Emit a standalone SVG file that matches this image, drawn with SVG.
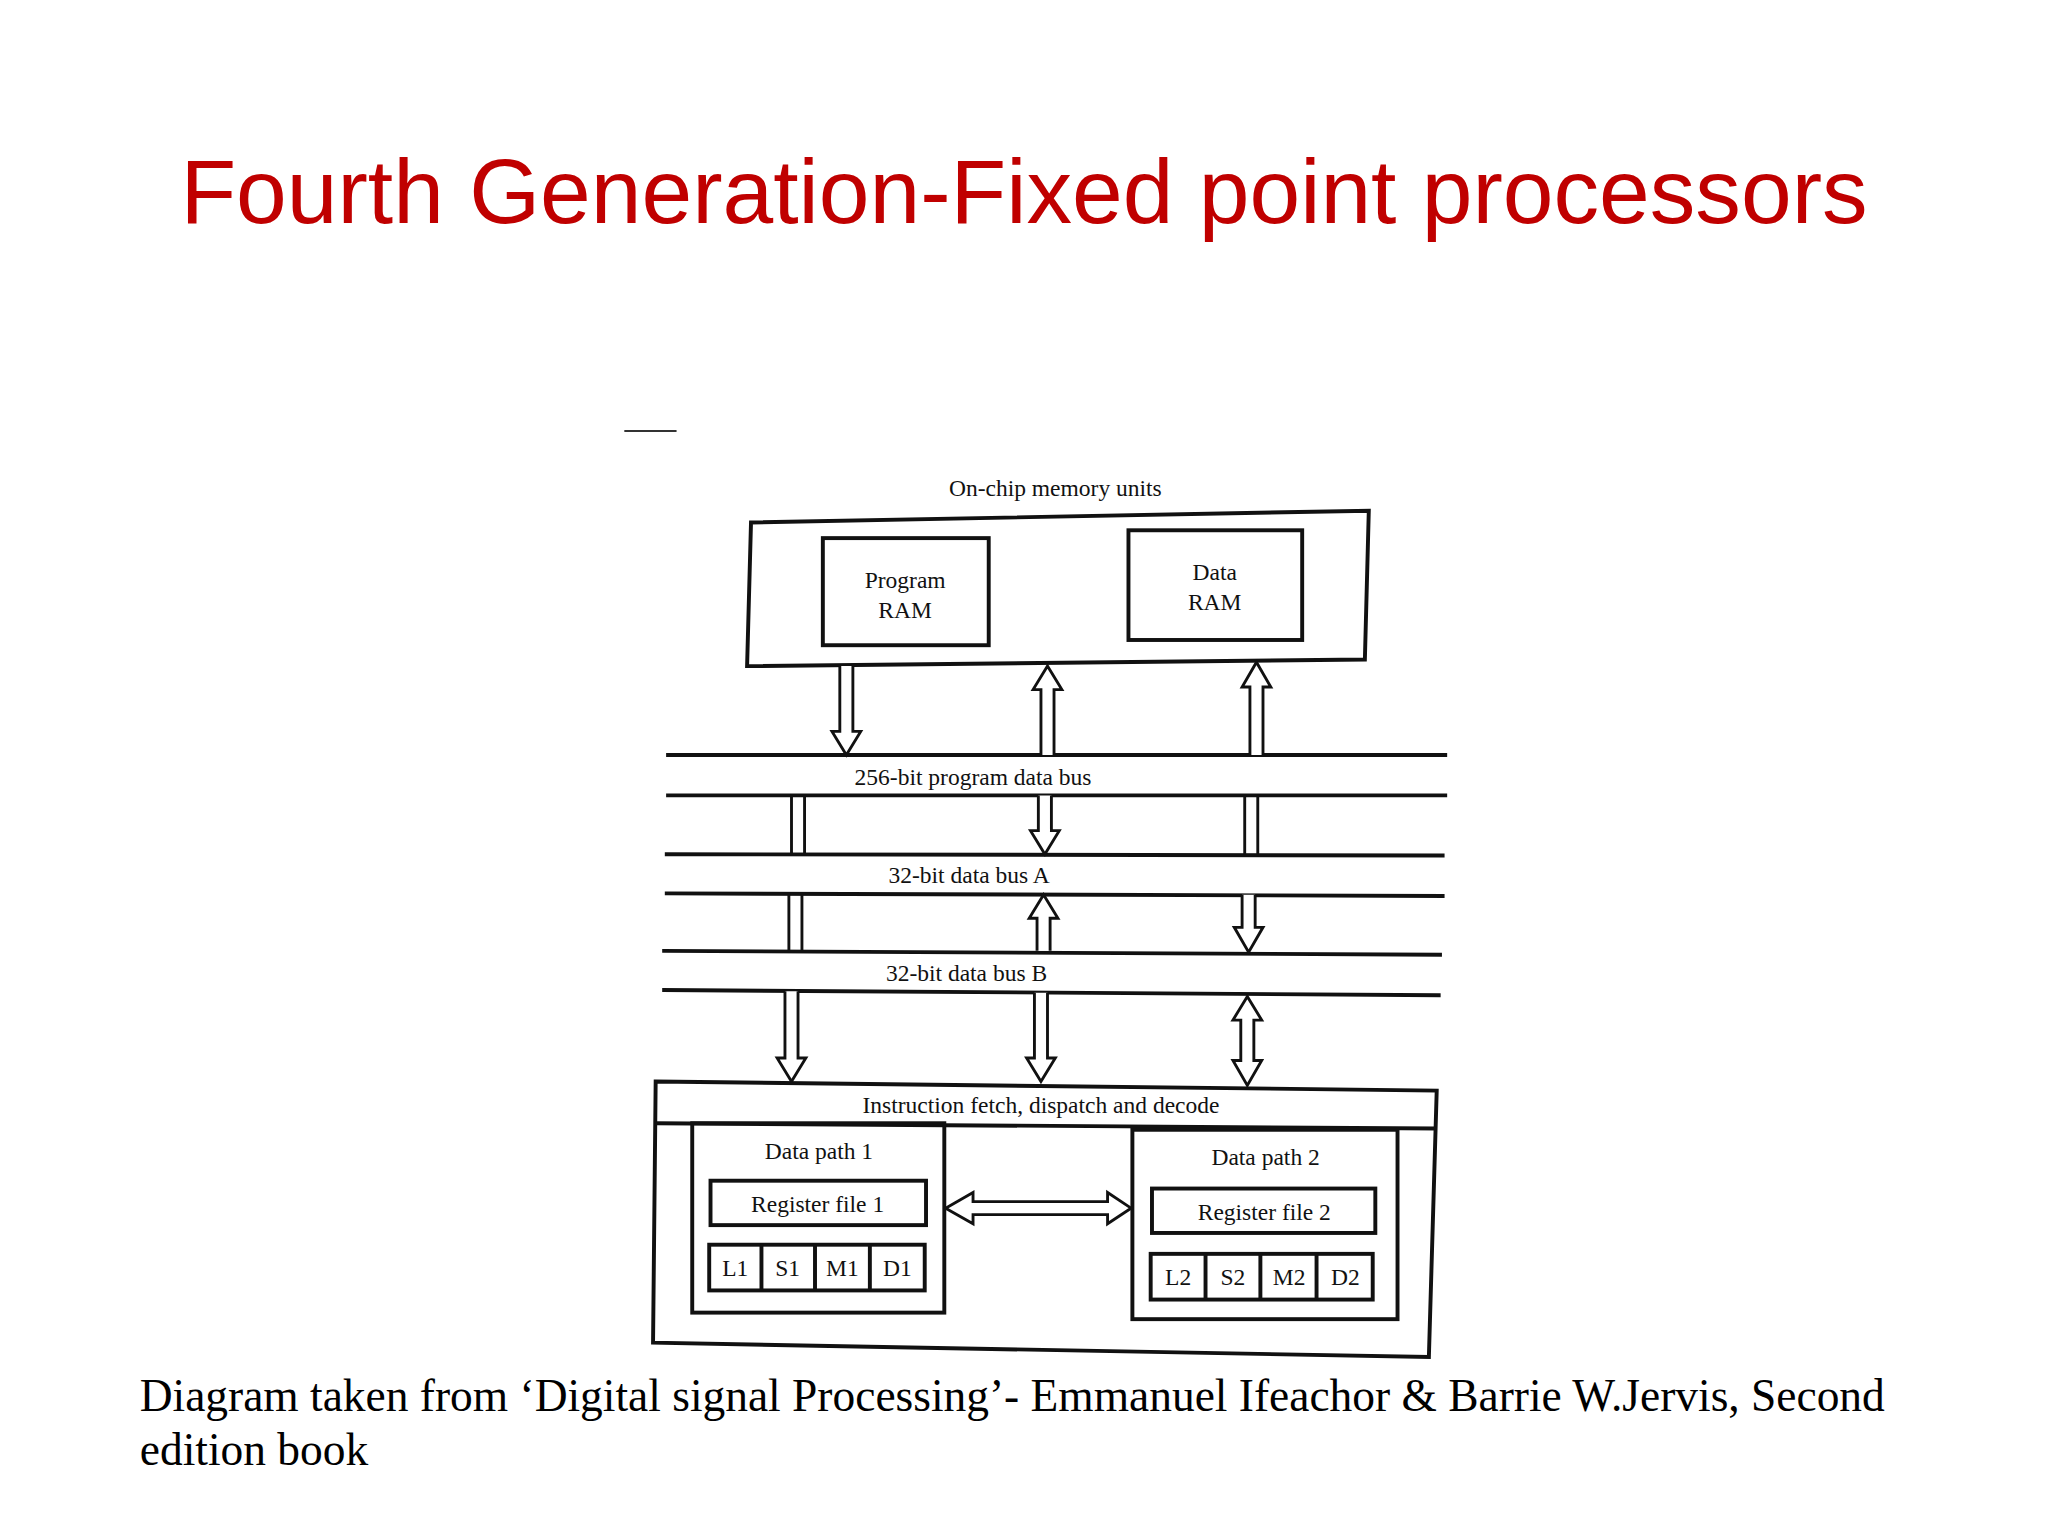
<svg xmlns="http://www.w3.org/2000/svg" width="2048" height="1536" viewBox="0 0 2048 1536">
<style>
.t{font-family:"Liberation Serif",serif;fill:#111;text-anchor:middle}
.b{fill:none;stroke:#111;stroke-width:3}
.a{fill:#fff;stroke:#111;stroke-width:2.2;stroke-linejoin:miter}
.l{stroke:#111;stroke-width:3}
</style>
<rect width="2048" height="1536" fill="#fff"/>
<g transform="scale(1.3061)">
<text x="784" y="171" style="font-family:'Liberation Sans',Arial,sans-serif;font-size:69.8px;fill:#C00000;text-anchor:middle">Fourth Generation-Fixed point processors</text>
<line x1="478" y1="330" x2="518" y2="330" stroke="#333" stroke-width="1.5"/>
<g id="memory">
<text class="t" x="808" y="380" font-size="18">On-chip memory units</text>
<polygon class="b" points="575,400 1048,391 1045,505 572,510"/>
</g>
<g id="program-ram"><rect class="b" x="630" y="412" width="127" height="82"/>
<text class="t" x="693" y="450" font-size="18">Program</text><text class="t" x="693" y="473" font-size="18">RAM</text></g>
<g id="data-ram"><rect class="b" x="864" y="406" width="133" height="84"/>
<text class="t" x="930" y="444" font-size="18">Data</text><text class="t" x="930" y="467" font-size="18">RAM</text></g>
<g id="buses">
<line class="l" x1="510" y1="578" x2="1108" y2="578"/><line class="l" x1="510" y1="609" x2="1108" y2="609"/>
<line class="l" x1="509" y1="654" x2="1106" y2="655"/><line class="l" x1="509" y1="684" x2="1106" y2="686"/>
<line class="l" x1="507" y1="728" x2="1104" y2="731"/><line class="l" x1="507" y1="758" x2="1103" y2="762"/>
<text class="t" x="745" y="601" font-size="18">256-bit program data bus</text>
<text class="t" x="742" y="676" font-size="18">32-bit data bus A</text>
<text class="t" x="740" y="751" font-size="18">32-bit data bus B</text>
</g>
<g id="connectors">
<path class="a" d="M643,510 V560 H637 L648,578 L659,560 H653 V510"/>
<path class="a" d="M797,578 V528 H791 L802,510 L813,528 H807 V578"/>
<path class="a" d="M795,609 V636 H789 L800,654 L811,636 H805 V609"/>
<path class="a" d="M957,578 V526 H951 L962,507 L973,526 H967 V578"/>
<path class="a" d="M953,609 V654 M963,609 V654"/>
<path class="a" d="M951,685 V710 H945 L956,729 L967,710 H961 V685"/>
<path class="a" d="M606,609 V654 M616,609 V654 M604,685 V728 M614,685 V728"/>
<path class="a" d="M601,759 V810 H595 L606,828 L617,810 H611 V759"/>
<path class="a" d="M794,728 V703 H788 L799,685 L810,703 H804 V728"/>
<path class="a" d="M792,760 V810 H786 L797,828 L808,810 H802 V760"/>
<path class="a" d="M950,781 V812 H944 L955,831 L966,812 H960 V781 H966 L955,763 L944,781 Z"/>
<path class="a" d="M745,920 H848 V913 L866,925 L848,937 V930 H745 V937 L724,925 L745,913 Z"/>
</g>
<g id="core">
<polygon class="b" points="502,828 1100,835 1094,1039 500,1028"/>
<line class="l" x1="502" y1="860" x2="1100" y2="864"/>
<text class="t" x="797" y="852" font-size="18">Instruction fetch, dispatch and decode</text>
</g>
<g id="datapath1">
<rect class="b" x="530" y="860" width="193" height="145"/>
<text class="t" x="627" y="887" font-size="18">Data path 1</text>
<rect class="b" x="544" y="904" width="165" height="34"/>
<text class="t" x="626" y="928" font-size="18">Register file 1</text>
<rect class="b" x="543" y="953" width="165" height="35"/>
<path class="l" d="M583,953V988M624,953V988M666,953V988"/>
<text class="t" x="563" y="977" font-size="18">L1</text><text class="t" x="603" y="977" font-size="18">S1</text>
<text class="t" x="645" y="977" font-size="18">M1</text><text class="t" x="687" y="977" font-size="18">D1</text>
</g>
<g id="datapath2">
<rect class="b" x="867" y="865" width="203" height="145"/>
<text class="t" x="969" y="892" font-size="18">Data path 2</text>
<rect class="b" x="882" y="910" width="171" height="34"/>
<text class="t" x="968" y="934" font-size="18">Register file 2</text>
<rect class="b" x="881" y="960" width="170" height="35"/>
<path class="l" d="M923,960V995M965,960V995M1008,960V995"/>
<text class="t" x="902" y="984" font-size="18">L2</text><text class="t" x="944" y="984" font-size="18">S2</text>
<text class="t" x="987" y="984" font-size="18">M2</text><text class="t" x="1030" y="984" font-size="18">D2</text>
</g>
<text x="107" y="1080" style="font-family:'Liberation Serif',serif;font-size:34.8px;fill:#000">Diagram taken from ‘Digital signal Processing’- Emmanuel Ifeachor &amp; Barrie W.Jervis, Second</text>
<text x="107" y="1122" style="font-family:'Liberation Serif',serif;font-size:34.8px;fill:#000">edition book</text>
</g>
</svg>
